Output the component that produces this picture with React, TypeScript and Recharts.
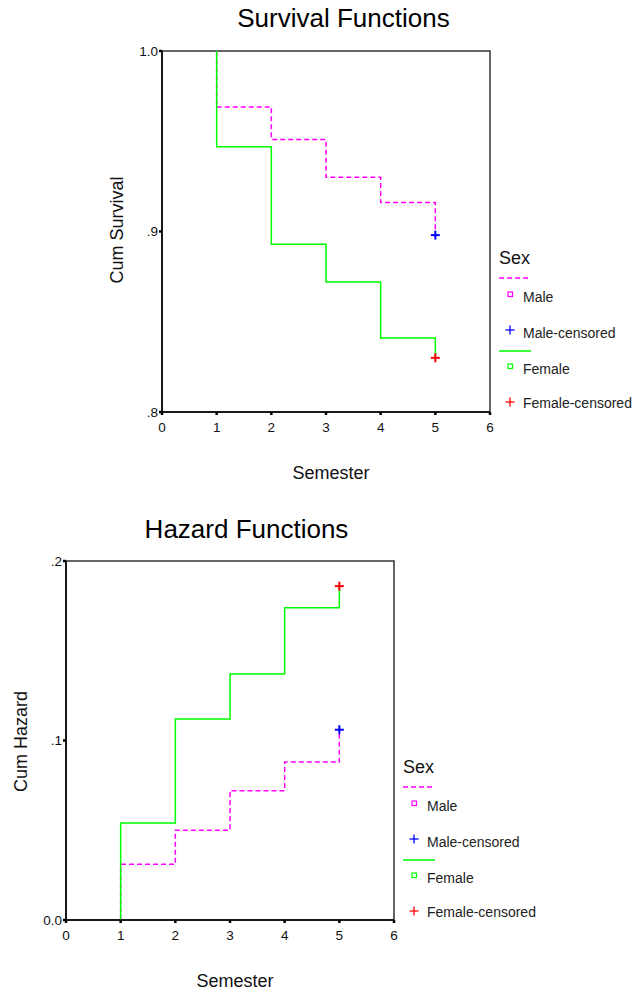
import React from 'react';
import { ComposedChart, Line, Scatter, XAxis, YAxis, ReferenceArea, Legend } from 'recharts';

// ---- data ----
const semesters = [1, 1, 2, 3, 4, 5];
const survivalMale = [1.0, 0.969, 0.951, 0.93, 0.916, 0.898];
const survivalFemale = [1.0, 0.947, 0.893, 0.872, 0.841, 0.83];
const hazardMale = [0, 0.031, 0.05, 0.072, 0.088, 0.106];
const hazardFemale = [0, 0.054, 0.112, 0.137, 0.174, 0.186];

const xTicks = [0, 1, 2, 3, 4, 5, 6];
const survivalTicks = [0.8, 0.9, 1.0];
const survivalTickLabels = ['.8', '.9', '1.0'];
const hazardTicks = [0, 0.1, 0.2];
const hazardTickLabels = ['0.0', '.1', '.2'];

const legendTitle = 'Sex';
const legendLabels = ['Male', 'Male-censored', 'Female', 'Female-censored'];

const MALE = '#ff00ff';
const FEMALE = '#00ff00';
const MALE_C = '#0000ff';
const FEMALE_C = '#ff0000';
const FONT = '"Liberation Sans", Arial, sans-serif';

const toPoints = (xs: number[], ys: number[]) => xs.map((x, i) => ({ x, y: ys[i] }));
const lastPoint = (xs: number[], ys: number[]) => [{ x: xs[xs.length - 1], y: ys[ys.length - 1] }];

const Cross = (color: string) => (props: any) => {
  const { cx, cy } = props;
  return (
    <g>
      <line x1={cx - 4.5} x2={cx + 4.5} y1={cy} y2={cy} stroke={color} strokeWidth={2} />
      <line x1={cx} x2={cx} y1={cy - 4.5} y2={cy + 4.5} stroke={color} strokeWidth={2} />
    </g>
  );
};

const LegendBox = ({ width }: { width: number }) => (
  <svg width={width} height={180} style={{ display: 'block', fontFamily: FONT }}>
    <text x={2} y={24} fontSize={18} fill="#111">{legendTitle}</text>
    <line x1={2} x2={34} y1={38} y2={38} stroke={MALE} strokeWidth={1.5} strokeDasharray="5 3" />
    <rect x={11} y={52} width={4.5} height={4.5} fill="none" stroke={MALE} strokeWidth={1.2} />
    <text x={26} y={62} fontSize={14} fill="#222">{legendLabels[0]}</text>
    <line x1={8.5} x2={17.5} y1={90} y2={90} stroke={MALE_C} strokeWidth={1.3} />
    <line x1={13} x2={13} y1={85.5} y2={94.5} stroke={MALE_C} strokeWidth={1.3} />
    <text x={26} y={98} fontSize={14} fill="#222">{legendLabels[1]}</text>
    <line x1={2} x2={34} y1={111} y2={111} stroke={FEMALE} strokeWidth={1.5} />
    <rect x={11} y={124} width={4.5} height={4.5} fill="none" stroke={FEMALE} strokeWidth={1.2} />
    <text x={26} y={134} fontSize={14} fill="#222">{legendLabels[2]}</text>
    <line x1={8.5} x2={17.5} y1={162} y2={162} stroke={FEMALE_C} strokeWidth={1.3} />
    <line x1={13} x2={13} y1={157.5} y2={166.5} stroke={FEMALE_C} strokeWidth={1.3} />
    <text x={26} y={168} fontSize={14} fill="#222">{legendLabels[3]}</text>
  </svg>
);

type PanelProps = {
  top: number;
  height: number;
  margin: { top: number; right: number; bottom: number; left: number };
  yWidth: number;
  yTicks: number[];
  yLabels: string[];
  maleVals: number[];
  femaleVals: number[];
  legendPos: { left: number; top: number; width: number };
  title: string;
  titlePos: { x: number; y: number };
  yTitle: string;
  yTitlePos: { x: number; y: number };
  xTitlePos: { x: number; y: number };
};

const Panel = (p: PanelProps) => {
  const fmt = (v: number) => {
    const i = p.yTicks.findIndex((t) => Math.abs(t - v) < 1e-9);
    return i >= 0 ? p.yLabels[i] : String(v);
  };
  const yDomain = [p.yTicks[0], p.yTicks[p.yTicks.length - 1]];
  return (
    <div style={{ position: 'absolute', left: 0, top: p.top, width: 633, height: p.height }}>
      <ComposedChart width={633} height={p.height} margin={p.margin}>
        <XAxis
          type="number"
          dataKey="x"
          domain={[0, 6]}
          ticks={xTicks}
          interval={0}
          height={30}
          allowDataOverflow
          axisLine={{ stroke: '#000', strokeWidth: 1.5 }}
          tickLine={{ stroke: '#000', strokeWidth: 2.5 }}
          tickSize={3}
          tickMargin={7}
          tick={{ fontSize: 13.5, fill: '#111', fontFamily: FONT }}
        />
        <YAxis
          type="number"
          dataKey="y"
          domain={yDomain}
          ticks={p.yTicks}
          interval={0}
          width={p.yWidth}
          allowDataOverflow
          tickFormatter={fmt}
          axisLine={{ stroke: '#000', strokeWidth: 1.5 }}
          tickLine={{ stroke: '#000', strokeWidth: 2.5 }}
          tickSize={3}
          tickMargin={1}
          tick={{ fontSize: 13.5, fill: '#111', fontFamily: FONT }}
        />
        <ReferenceArea x1={0} x2={6} y1={yDomain[0]} y2={yDomain[1]} fill="none" stroke="#333" strokeWidth={1.5} />
        <Line
          data={toPoints(semesters, p.maleVals)}
          dataKey="y"
          type="stepAfter"
          stroke={MALE}
          strokeWidth={1.5}
          strokeDasharray="5 3"
          dot={false}
          activeDot={false}
          isAnimationActive={false}
        />
        <Line
          data={toPoints(semesters, p.femaleVals)}
          dataKey="y"
          type="stepAfter"
          stroke={FEMALE}
          strokeWidth={1.5}
          dot={false}
          activeDot={false}
          isAnimationActive={false}
        />
        <Scatter data={lastPoint(semesters, p.maleVals)} dataKey="y" shape={Cross(MALE_C)} isAnimationActive={false} />
        <Scatter data={lastPoint(semesters, p.femaleVals)} dataKey="y" shape={Cross(FEMALE_C)} isAnimationActive={false} />
        <Legend
          layout="vertical"
          align="center"
          verticalAlign="middle"
          wrapperStyle={{ left: p.legendPos.left, top: p.legendPos.top, width: p.legendPos.width, height: 180 }}
          content={() => <LegendBox width={p.legendPos.width} />}
        />
      </ComposedChart>
      <svg
        width={633}
        height={p.height}
        style={{ position: 'absolute', left: 0, top: 0, pointerEvents: 'none', fontFamily: FONT }}
      >
        <text x={p.titlePos.x} y={p.titlePos.y} textAnchor="middle" fontSize={26} fill="#000">{p.title}</text>
        <text
          x={p.yTitlePos.x}
          y={p.yTitlePos.y}
          textAnchor="middle"
          fontSize={18}
          fill="#111"
          transform={`rotate(-90 ${p.yTitlePos.x} ${p.yTitlePos.y})`}
        >
          {p.yTitle}
        </text>
        <text x={p.xTitlePos.x} y={p.xTitlePos.y} textAnchor="middle" fontSize={18} fill="#111">Semester</text>
      </svg>
    </div>
  );
}

export default function App() {
  return (
    <div style={{ position: 'absolute', left: 0, top: 0, width: 640, height: 995, background: '#fff', overflow: 'hidden' }}>
      <Panel
        top={0}
        height={490}
        margin={{ top: 51, right: 143, bottom: 48, left: 0 }}
        yWidth={162}
        yTicks={survivalTicks}
        yLabels={survivalTickLabels}
        maleVals={survivalMale}
        femaleVals={survivalFemale}
        legendPos={{ left: 497, top: 240, width: 136 }}
        title="Survival Functions"
        titlePos={{ x: 343.5, y: 27 }}
        yTitle="Cum Survival"
        yTitlePos={{ x: 122.5, y: 230 }}
        xTitlePos={{ x: 331, y: 479 }}
      />
      <Panel
        top={490}
        height={505}
        margin={{ top: 71, right: 239, bottom: 45, left: 0 }}
        yWidth={66}
        yTicks={hazardTicks}
        yLabels={hazardTickLabels}
        maleVals={hazardMale}
        femaleVals={hazardFemale}
        legendPos={{ left: 401, top: 259, width: 142 }}
        title="Hazard Functions"
        titlePos={{ x: 246.5, y: 47.5 }}
        yTitle="Cum Hazard"
        yTitlePos={{ x: 26.5, y: 251.5 }}
        xTitlePos={{ x: 235, y: 497 }}
      />
    </div>
  );
}
